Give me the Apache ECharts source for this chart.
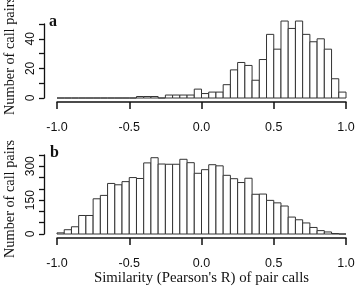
<!DOCTYPE html>
<html>
<head>
<meta charset="utf-8">
<script src="https://cdn.jsdelivr.net/npm/echarts@6/dist/echarts.min.js"></script>
<style>
  html, body { margin: 0; padding: 0; background: #fff; }
  #chart { width: 359px; height: 287px; }
</style>
</head>
<body>
<div id="chart"></div>
<script>
// bin edges shared by both histograms (width 0.05)
const binEdges = [
  -1.00, -0.95, -0.90, -0.85, -0.80, -0.75, -0.70, -0.65, -0.60, -0.55,
  -0.50, -0.45, -0.40, -0.35, -0.30, -0.25, -0.20, -0.15, -0.10, -0.05,
  0.00, 0.05, 0.10, 0.15, 0.20, 0.25, 0.30, 0.35, 0.40, 0.45,
  0.50, 0.55, 0.60, 0.65, 0.70, 0.75, 0.80, 0.85, 0.90, 0.95, 1.00,
];

// panel a counts
const countsA = [
  0, 0, 0, 0, 0, 0, 0, 0, 0, 0,
  0, 1, 1, 1, 0, 2, 2, 2, 2, 6,
  3, 4, 4, 9, 19, 24, 22, 12, 26, 43,
  33, 52, 47, 52, 43, 38, 40, 33, 13, 4,
];

// panel b counts
const countsB = [
  5, 19, 32, 82, 82, 156, 171, 224, 218, 232,
  250, 246, 315, 338, 310, 309, 309, 331, 316, 269,
  285, 307, 302, 260, 245, 228, 247, 176, 177, 149,
  138, 124, 75, 63, 49, 29, 15, 9, 2, 0,
];

const xTicks = [-1.0, -0.5, 0.0, 0.5, 1.0];
const panelLabels = ['a', 'b'];
const yTitle = 'Number of call pairs';
const xTitle = "Similarity (Pearson's R) of pair calls";

const SANS = '"Liberation Sans", Arial, sans-serif';
const SERIF = '"Liberation Serif", "Times New Roman", serif';
const INK = '#111';

function toRows(counts) {
  return counts.map((c, i) => [binEdges[i], binEdges[i + 1], c]);
}

function renderBin(params, api) {
  const p0 = api.coord([api.value(0), 0]);
  const p1 = api.coord([api.value(1), api.value(2)]);
  return {
    type: 'rect',
    shape: { x: p0[0], y: p1[1], width: p1[0] - p0[0], height: p0[1] - p1[1] },
    style: { fill: '#fff', stroke: '#333', lineWidth: 1 },
  };
}

const panels = [
  { top: 24, height: 74, max: 50, interval: 10, labelStep: 20, offset: 4 },
  { top: 155, height: 79, max: 350, interval: 50, labelStep: 150, offset: 4 },
];

const chart = echarts.init(document.getElementById('chart'));

const xAxes = panels.map((p, i) => {
  const axis = {
    type: 'value',
    gridIndex: i,
    min: -1,
    max: 1,
    interval: 0.5,
    offset: p.offset,
    z: 10,
    axisLine: { show: true, onZero: false, lineStyle: { color: INK, width: 1.5 } },
    axisTick: { show: true, length: 7, lineStyle: { color: INK, width: 1.5 } },
    splitLine: { show: false },
    axisLabel: {
      margin: 19,
      color: INK,
      fontFamily: SANS,
      fontSize: 12.5,
      formatter: (v) => xTicks.includes(v) ? v.toFixed(1) : '',
    },
  };
  if (i === 1) {
    axis.name = xTitle;
    axis.nameLocation = 'middle';
    axis.nameGap = 31;
    axis.nameTextStyle = { color: INK, fontFamily: SERIF, fontSize: 14.8 };
  }
  return axis;
});

chart.setOption({
  animation: false,
  grid: panels.map((p) => ({
    left: 57, width: 289, top: p.top, height: p.height, outerBoundsMode: 'none',
  })),
  xAxis: xAxes,
  yAxis: panels.map((p, i) => ({
    type: 'value',
    gridIndex: i,
    min: 0,
    max: p.max,
    interval: p.interval,
    offset: 13,
    z: 10,
    axisLine: { show: true, onZero: false, lineStyle: { color: INK, width: 1.3 } },
    axisTick: { show: true, length: 5, lineStyle: { color: INK, width: 1.3 } },
    splitLine: { show: false },
    axisLabel: {
      rotate: 90,
      margin: 7,
      color: INK,
      fontFamily: SANS,
      fontSize: 12,
      showMaxLabel: true,
      formatter: (v) => (v % p.labelStep === 0 ? String(v) : ''),
    },
  })),
  graphic: [
    {
      type: 'text', x: 10, y: 56, rotation: Math.PI / 2,
      style: { text: yTitle, fill: INK, font: '14.3px ' + SERIF, align: 'center', verticalAlign: 'middle' },
    },
    {
      type: 'text', x: 10, y: 199, rotation: Math.PI / 2,
      style: { text: yTitle, fill: INK, font: '14.3px ' + SERIF, align: 'center', verticalAlign: 'middle' },
    },
    {
      type: 'text', x: 49, y: 22,
      style: { text: panelLabels[0], fill: INK, font: 'bold 16px ' + SERIF, align: 'left', verticalAlign: 'middle' },
    },
    {
      type: 'text', x: 50, y: 153,
      style: { text: panelLabels[1], fill: INK, font: 'bold 16px ' + SERIF, align: 'left', verticalAlign: 'middle' },
    },
  ],
  series: [countsA, countsB].map((counts, i) => ({
    type: 'custom',
    xAxisIndex: i,
    yAxisIndex: i,
    z: 2,
    renderItem: renderBin,
    encode: { x: [0, 1], y: 2 },
    data: toRows(counts),
  })),
});
</script>
</body>
</html>
